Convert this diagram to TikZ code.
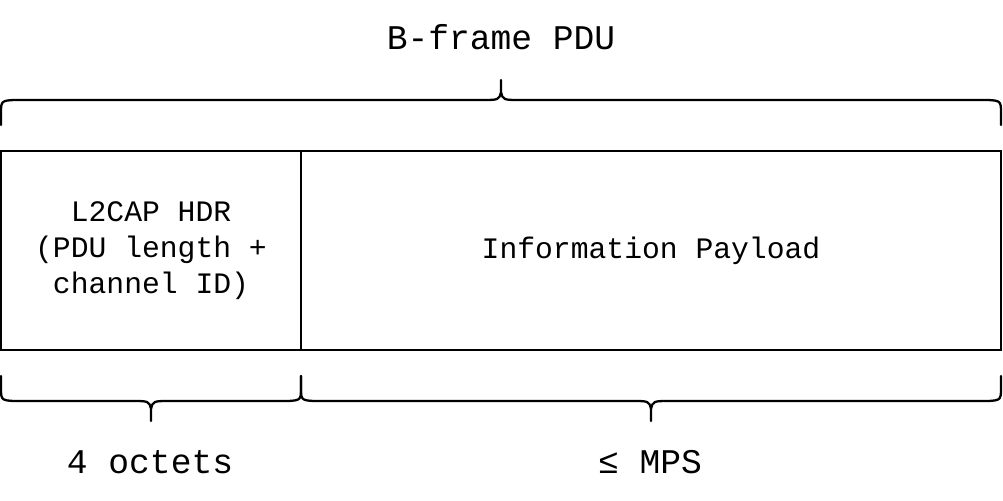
\documentclass[tikz,border=0pt]{standalone}
\usepackage{fontspec}
\setmonofont{Liberation Mono}
\usetikzlibrary{positioning,calc}
\tikzset{
  field/.style={draw,line width=1.3pt,minimum height=3.98cm,inner sep=0pt,
    align=center,font=\ttfamily\fontsize{16.9}{20.4}\selectfont},
  bigtext/.style={font=\ttfamily\fontsize{19.7}{24}\selectfont,inner sep=0pt},
  brace/.style={line width=1.3pt,line cap=round,line join=round}
}
% brace: left x, right x, base y, direction (-1 = up, 1 = down)
\newcommand{\pdubrace}[4]{%
  \draw[brace] (#1,#3) -- (#1,#3+#4*12)
    .. controls (#1,#3+#4*25) .. (#1+22,#3+#4*25)
    -- ({(#1+#2)/2-20},#3+#4*25)
    .. controls ({(#1+#2)/2-2},#3+#4*25) .. ({(#1+#2)/2},#3+#4*33)
    -- ({(#1+#2)/2},#3+#4*45) -- ({(#1+#2)/2},#3+#4*33)
    .. controls ({(#1+#2)/2+2},#3+#4*25) .. ({(#1+#2)/2+20},#3+#4*25)
    -- (#2-22,#3+#4*25)
    .. controls (#2,#3+#4*25) .. (#2,#3+#4*12) -- (#2,#3);}

\begin{document}
\begin{tikzpicture}[x=0.02cm,y=-0.02cm]
  \useasboundingbox (0,0) rectangle (1003,500);
  \node[field,minimum width=6cm] (hdr) at (151,250.5)
    {\raisebox{-2pt}{\parbox{6cm}{\centering L2CAP HDR\\(PDU length +\\channel ID)}}};
  \node[field,minimum width=14cm] (payload) at (651,250.5) {Information Payload};
  \node[bigtext] (title) at (501,37) {B-frame PDU};
  \node[bigtext] (hdrlen) at (150,462) {4 octets};
  \node[bigtext] (paylen) at (650,462) {≤ MPS};
  % braces
  \pdubrace{1}{1001}{125}{-1}
  \pdubrace{1}{301}{376}{1}
  \pdubrace{301}{1001}{376}{1}
\end{tikzpicture}
\end{document}
